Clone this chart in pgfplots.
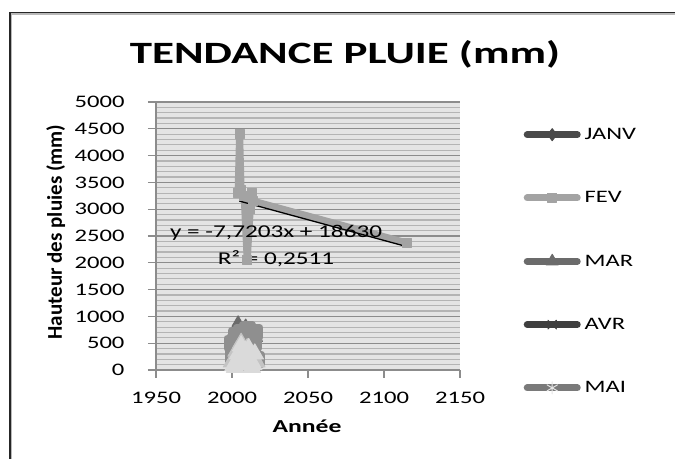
\documentclass[border=0pt]{standalone}
\usepackage{fontspec}
\setmainfont{Carlito}[FakeStretch=1.4]
\newfontfamily\titlefont{Carlito}[FakeStretch=1.45]
\newfontfamily\plainfont{Carlito}
\usepackage{pgfplots}
\pgfplotsset{compat=1.18}

\definecolor{cJanv}{HTML}{4A4A4A}
\definecolor{cFev}{HTML}{A3A3A3}
\definecolor{cMar}{HTML}{6B6B6B}
\definecolor{cAvr}{HTML}{3F3F3F}
\definecolor{cMai}{HTML}{7A7A7A}
\definecolor{cJuin}{HTML}{8F8F8F}
\definecolor{cJuil}{HTML}{C4C4C4}
\definecolor{cAout}{HTML}{DADADA}
\definecolor{plotBg}{HTML}{E4E4E4}
\definecolor{gridMaj}{HTML}{8C8C8C}
\definecolor{gridMin}{HTML}{B4B4B4}
\definecolor{axisCol}{HTML}{8C8C8C}

\begin{document}
\begin{tikzpicture}
\useasboundingbox (0,0) rectangle (675bp,459bp);
\fill[white] (0,0) rectangle (675bp,459bp);
% only the top and left edges of the chart frame are in the picture
\draw[black!85, line width=1.4bp] (10bp,0) -- (10bp,446.7bp) -- (675bp,446.7bp);
\draw[gray!55, line width=1.2bp] (11.8bp,0) -- (11.8bp,445bp) -- (675bp,445bp);

\node[font=\titlefont\bfseries\fontsize{31bp}{33bp}\selectfont] at (345bp,405bp) {TENDANCE PLUIE (mm)};

\begin{axis}[
  at={(156bp,89bp)}, anchor=south west,
  scale only axis, width=304bp, height=268bp,
  xmin=1950, xmax=2150, ymin=0, ymax=5000,
  xtick={1950,2000,2050,2100,2150},
  ytick={0,500,...,5000},
  minor y tick num=4,
  ymajorgrids, yminorgrids,
  major grid style={draw=gridMaj, line width=1.2bp},
  minor grid style={draw=gridMin, line width=1.2bp},
  axis background/.style={fill=plotBg},
  axis x line*=bottom, axis y line*=left,
  axis line style={draw=axisCol, line width=1.2bp, -},
  tick align=outside,
  major tick length=8bp, minor tick length=0pt,
  tick style={draw=axisCol, line width=1.2bp},
  tick label style={font=\fontsize{17.6bp}{20bp}\selectfont},
  yticklabel style={anchor=east, xshift=-20bp},
  xticklabel style={anchor=north, yshift=-11bp},
  /pgf/number format/assume math mode=true,
  /pgf/number format/1000 sep={},
  xlabel={\textbf{Année}},
  xlabel style={at={(axis description cs:0.497,-0.21)}, anchor=center,
    font=\fontsize{18.3bp}{20bp}\selectfont},
  ylabel={\plainfont\bfseries Hauteur des pluies (mm)},
  ylabel style={at={(axis description cs:-0.33,0.515)}, anchor=center,
    font=\fontsize{21bp}{23bp}\selectfont},
  clip=false,
  every axis plot/.append style={line width=7bp, line cap=round, line join=round},
  legend image code/.code={%
    \draw[#1, mark repeat=2, mark phase=2]
      plot coordinates {(0bp,0bp) (25bp,0bp) (50bp,0bp)};},
  legend style={at={(1.209,0.91)}, anchor=north west, draw=none, fill=none,
    inner sep=0pt, row sep=46.6bp, column sep=2bp,
    font=\fontsize{17.5bp}{19bp}\selectfont},
  legend cell align=left,
]
% JANV
\addplot[cJanv, mark=diamond*, mark size=6bp, mark options={line width=1bp}] coordinates {
(2000,640) (2002,650) (2003,720) (2004,690) (2005,760) (2006,640) (2007,700) (2008,730)
(2009,680) (2010,620) (2011,700) (2012,750) (2013,660) (2014,690) (2016,640)};
\addlegendentry{JANV}
% FEV
\addplot[cFev, mark=square*, mark size=4.5bp, mark options={line width=1bp}] coordinates {
(2004,3300) (2005,4400) (2006,3350) (2008,3250) (2010,2050) (2012,3000)
(2013,3300) (2014,3150) (2115,2370)};
\addlegendentry{FEV}
% MAR
\addplot[cMar, mark=triangle*, mark size=7bp, mark options={line width=1bp}] coordinates {
(2000,620) (2002,700) (2003,800) (2004,880) (2005,600) (2006,750) (2007,300) (2008,650)
(2009,820) (2010,500) (2011,700) (2012,750) (2013,400) (2014,720) (2016,600)};
\addlegendentry{MAR}
% AVR
\addplot[cAvr, mark=x, mark size=6bp, mark options={line width=1.2bp}] coordinates {
(2002,600) (2003,700) (2004,650) (2005,720) (2006,680) (2007,600) (2008,700)
(2009,710) (2010,650) (2011,690) (2012,720) (2013,640) (2014,700)};
\addlegendentry{AVR}
% MAI
\addplot[cMai, mark=asterisk, mark size=6bp, mark options={line width=1bp, draw=white!80!cMai}] coordinates {
(2000,400) (2002,450) (2003,550) (2004,600) (2005,400) (2006,500) (2007,350) (2008,550)
(2009,450) (2010,300) (2011,500) (2012,550) (2013,400) (2014,450) (2016,500)};
\addlegendentry{MAI}
% further months, not listed in the legend
\addplot[cJuin, mark=square*, mark size=5bp, forget plot] coordinates {
(2000,500) (2001,250) (2002,300) (2003,650) (2004,200) (2005,550) (2006,700) (2007,150) (2008,600)
(2009,350) (2010,750) (2011,250) (2012,600) (2013,150) (2014,500) (2015,700) (2016,200)};
\addplot[cJuil, mark=triangle*, mark size=10bp, mark options={line width=1bp}, forget plot] coordinates {
(2000,150) (2002,200) (2003,350) (2004,250) (2005,300) (2006,500) (2007,150) (2008,300)
(2009,250) (2010,400) (2011,100) (2012,300) (2013,200) (2014,250) (2016,150)};
\addplot[cAout, mark=triangle*, mark size=10bp, mark options={line width=1bp}, forget plot] coordinates {
(2001,80) (2002,50) (2003,150) (2004,300) (2005,100) (2006,450) (2007,200) (2008,100)
(2009,350) (2010,250) (2011,400) (2012,150) (2013,50) (2014,100) (2015,300)};
% linear trend of FEV
\addplot[black, line width=1.3bp, no marks, forget plot] coordinates {(2005,3150.8) (2115,2301.6)};
\node[font=\fontsize{18bp}{20bp}\selectfont] at (axis cs:2029,2556) {y = -7,7203x + 18630};
\node[font=\fontsize{18bp}{20bp}\selectfont] at (axis cs:2029,2071) {R² = 0,2511};
\end{axis}
\end{tikzpicture}
\end{document}
